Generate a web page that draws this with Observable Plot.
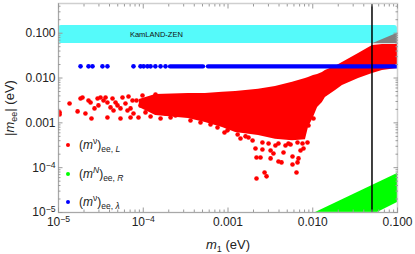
<!DOCTYPE html>
<html><head><meta charset="utf-8">
<script src="https://cdn.jsdelivr.net/npm/d3@7"></script>
<script src="https://cdn.jsdelivr.net/npm/@observablehq/plot@0.6"></script>
<style>
body{margin:0;background:#fff;}
#wrap{position:relative;width:415px;height:254px;font-family:"Liberation Sans",Arial,sans-serif;color:#222;}
.legend{position:absolute;left:66px;top:131px;font-size:12px;line-height:12px;}
.row{display:flex;align-items:center;height:28.5px;}
.dot{display:inline-block;width:4px;height:4px;border-radius:50%;margin-right:9px;}
.row sub{font-size:8.5px;vertical-align:-3px;}
.row sup{font-size:8.5px;vertical-align:5px;}
</style></head><body><div id="wrap"></div>
<script>
// ---- data ----
// dense (m^nu)_ee,L region: envelope of the scatter
const regionM1   = [9.0e-5, 1.4e-4, 3.4e-4, 5.4e-4, 8.6e-4, 1.23e-3, 2.29e-3, 3.63e-3, 5.77e-3, 8.2e-3, 8.9e-3, 1.02e-2, 1.14e-2, 1.3e-2, 1.41e-2, 1.86e-2, 2.24e-2, 3.47e-2, 5.07e-2, 6.65e-2, 0.1];
const regionLow  = [2.2e-3, 1.46e-3, 1.25e-3, 1.02e-3, 7.9e-4, 6.1e-4, 5.2e-4, 4.3e-4, 4.0e-4, 4.2e-4, 7.9e-4, 1.32e-3, 2.2e-3, 2.85e-3, 3.7e-3, 5.3e-3, 6.8e-3, 9.8e-3, 1.27e-2, 1.48e-2, 1.64e-2];
const regionHigh = [3.3e-3, 4.3e-3, 4.5e-3, 4.5e-3, 4.8e-3, 5.0e-3, 5.6e-3, 6.5e-3, 8.0e-3, 9.8e-3, 1.03e-2, 1.14e-2, 1.2e-2, 1.33e-2, 1.48e-2, 1.82e-2, 2.23e-2, 3.54e-2, 5.34e-2, 5.62e-2, 5.62e-2];
// isolated (m^nu)_ee,L points
const redM1  = [1.03e-5,1.03e-5,1.35e-5,1.68e-5,1.82e-5,1.92e-5,2.08e-5,2.26e-5,2.39e-5,2.45e-5,2.66e-5,2.89e-5,2.96e-5,3.13e-5,3.40e-5,3.59e-5,3.78e-5,3.78e-5,4.11e-5,4.34e-5,4.46e-5,4.71e-5,4.97e-5,5.39e-5,5.39e-5,5.69e-5,6.17e-5,6.52e-5,7.08e-5,7.47e-5,
  6.70e-5,7.08e-5,7.67e-5,8.32e-5,8.79e-5,9.28e-5,9.80e-5,1.063e-4,1.153e-4,1.22e-4,1.285e-4,1.395e-4,1.514e-4,1.60e-4,1.733e-4,1.83e-4,2.10e-4,2.40e-4,
  3.61e-4,4.74e-4,6.22e-4,7.52e-4,9.09e-4,9.87e-4,1.30e-3,1.61e-3,1.95e-3,2.11e-3,2.17e-3,2.42e-3,2.17e-3,2.55e-3,2.70e-3,2.85e-3,3.01e-3,3.18e-3,3.18e-3,3.44e-3,3.63e-3,3.94e-3,4.28e-3,4.52e-3,4.77e-3,5.17e-3,5.77e-3,5.77e-3,6.43e-3,6.61e-3,6.79e-3,7.17e-3,6.61e-3,7.78e-3,8.67e-3,8.91e-3,1.02e-2,
  1.405e-3,1.745e-3,2.55e-3,3.94e-3,5.47e-3,7.57e-3];
const redMee = [1.71e-3,1.54e-3,2.71e-3,1.80e-3,3.50e-3,3.69e-3,1.62e-3,3.16e-3,2.85e-3,1.25e-3,2.10e-3,3.50e-3,2.45e-3,3.69e-3,3.16e-3,3.69e-3,2.85e-3,1.32e-3,2.21e-3,3.50e-3,1.89e-3,2.85e-3,2.45e-3,1.25e-3,2.10e-3,3.69e-3,2.71e-3,1.89e-3,1.32e-3,3.16e-3,
  3.88e-3,2.10e-3,1.62e-3,3.16e-3,1.32e-3,2.45e-3,4.09e-3,1.71e-3,3.33e-3,1.39e-3,2.58e-3,4.30e-3,1.89e-3,1.25e-3,3.16e-3,1.62e-3,1.32e-3,1.46e-3,
  1.13e-3,1.02e-3,9.2e-4,7.9e-4,6.1e-4,6.8e-4,5.5e-4,5.0e-4,4.05e-4,2.68e-4,1.69e-4,1.69e-4,5.74e-5,2.55e-4,7.8e-5,6.4e-5,3.47e-4,2.42e-4,1.61e-4,2.07e-4,3.13e-4,1.37e-4,1.31e-4,2.18e-4,3.13e-4,3.47e-4,1.78e-4,1.18e-4,7.8e-5,1.31e-4,1.61e-4,2.42e-4,3.65e-4,2.68e-4,3.65e-4,8.75e-4,1.25e-3,
  4.49e-4,4.72e-4,3.65e-4,3.47e-4,3.30e-4,3.47e-4];
// (m^nu)_ee,lambda points (constant value)
const blueMee = 0.0182;
const blueM1 = [1.82e-5, 2.26e-5, 2.52e-5, 3.30e-5, 3.78e-5, 7.67e-5, 9.28e-5, 1.01e-4, 1.12e-4, 1.22e-4, 1.39e-4, 1.60e-4, 1.83e-4];
const blueRunStart = [2.10e-4, 5.89e-4];
const blueRunEnd   = [5.14e-4, 0.1];
// (m^N)_ee,R region
const greenM1   = [1.08e-2, 5.81e-2, 0.1];
const greenLow  = [1e-5, 1e-5, 1.67e-5];
const greenHigh = [1e-5, 4.56e-5, 7.42e-5];
// gray excluded wedge
const grayM1   = [5.07e-2, 0.1];
const grayLow  = [0.058, 0.058];
const grayHigh = [0.058, 0.1];
// KamLAND-ZEN band
const kzLow = [0.059], kzHigh = [0.148];
const kzLabel = ["KamLAND-ZEN"], kzLabelM1 = [1.43e-4], kzLabelMee = [0.094];
// vertical limit on m1
const m1Limit = [0.05];
// ticks
const xTicks = [1e-5, 1e-4, 1e-3, 1e-2, 1e-1];
const xTickLabels = ["10^−5", "10^−4", "0.001", "0.010", "0.100"];
const yTicks = [1e-5, 1e-4, 1e-3, 1e-2, 1e-1];
const yTickLabels = ["10^−5", "10^−4", "0.001", "0.010", "0.100"];
const xDomain = [1e-5, 0.1], yDomain = [1e-5, 0.46];

const minor = (dom) => { const out = []; for (let e = -5; e <= 0; e++) for (let k = 2; k <= 9; k++) { const v = k * Math.pow(10, e); if (v > dom[0] && v < dom[1]) out.push(v); } return out; };
const xMinor = minor(xDomain), yMinor = minor(yDomain);
const idx = (a) => d3.range(a.length);
const xf = (v) => xTickLabels[xTicks.findIndex(t => Math.abs(t - v) / v < 1e-6)];
const yf = (v) => yTickLabels[yTicks.findIndex(t => Math.abs(t - v) / v < 1e-6)];
const tickColor = "#9a9a9a";

const svg = Plot.plot({
  width: 415, height: 254,
  marginLeft: 58, marginRight: 18, marginTop: 3, marginBottom: 42,
  style: {fontFamily: "Liberation Sans, Arial, sans-serif", fontSize: "12px", color: "#222", background: "white"},
  x: {type: "log", domain: xDomain},
  y: {type: "log", domain: yDomain},
  marks: [
    Plot.rect(idx(kzLow), {x1: () => xDomain[0], x2: () => xDomain[1], y1: i => kzLow[i], y2: i => kzHigh[i], fill: "#55fafa", rx: 3}),
    Plot.areaY(idx(grayM1), {x: i => grayM1[i], y1: i => grayLow[i], y2: i => grayHigh[i], fill: "#808080", clip: true}),
    Plot.areaY(idx(regionM1), {x: i => regionM1[i], y1: i => regionLow[i], y2: i => regionHigh[i], fill: "#ff0000", clip: true}),
    Plot.dot(idx(redM1), {x: i => redM1[i], y: i => redMee[i], r: 2.3, fill: "#ff0000", clip: true}),
    Plot.dot(idx(blueM1), {x: i => blueM1[i], y: () => blueMee, r: 2.3, fill: "#0000ff", clip: true}),
    Plot.ruleY(idx(blueRunStart), {x1: i => blueRunStart[i], x2: i => blueRunEnd[i], y: () => blueMee, stroke: "#0000ff", strokeWidth: 4.4, strokeLinecap: "round", clip: true}),
    Plot.areaY(idx(greenM1), {x: i => greenM1[i], y1: i => greenLow[i], y2: i => greenHigh[i], fill: "#00ff00", clip: true}),
    Plot.ruleX(m1Limit, {stroke: "black", strokeWidth: 1.5}),
    Plot.text(idx(kzLabel), {x: i => kzLabelM1[i], y: i => kzLabelMee[i], text: i => kzLabel[i], fontSize: 7.5, fill: "#111"}),
    Plot.frame({stroke: "#cfcfcf", strokeWidth: 1.5}),
    Plot.ruleX([xDomain[0]], {stroke: "#a8a8a8"}),
    Plot.ruleY([yDomain[0]], {stroke: "#a8a8a8"}),
    // tick marks (inward)
    Plot.axisX(xTicks, {anchor: "bottom", tickSize: -4.5, fill: "none", stroke: tickColor, label: null}),
    Plot.axisX(xMinor, {anchor: "bottom", tickSize: -2.5, fill: "none", stroke: tickColor, label: null}),
    Plot.axisX(xTicks, {anchor: "top", tickSize: -4.5, fill: "none", stroke: tickColor, label: null}),
    Plot.axisX(xMinor, {anchor: "top", tickSize: -2.5, fill: "none", stroke: tickColor, label: null}),
    Plot.axisY(yTicks, {anchor: "left", tickSize: -4.5, fill: "none", stroke: tickColor, label: null}),
    Plot.axisY(yMinor, {anchor: "left", tickSize: -2.5, fill: "none", stroke: tickColor, label: null}),
    Plot.axisY(yTicks, {anchor: "right", tickSize: -4.5, fill: "none", stroke: tickColor, label: null}),
    Plot.axisY(yMinor, {anchor: "right", tickSize: -2.5, fill: "none", stroke: tickColor, label: null}),
    // tick labels
    Plot.axisX(xTicks, {anchor: "bottom", tickSize: 0, tickPadding: 5, tickFormat: xf, label: null, fontSize: 12}),
    Plot.axisY(yTicks, {anchor: "left", tickSize: 0, tickPadding: 3, tickFormat: yf, label: null, fontSize: 12})
  ]
});

const wrap = document.getElementById("wrap");
wrap.appendChild(svg);

// superscripts in tick labels
d3.select(svg).selectAll("text").each(function () {
  const t = this.textContent;
  const m = /^10\^(.+)$/.exec(t);
  if (m) {
    const sel = d3.select(this);
    sel.text("10");
    sel.append("tspan").attr("dy", "-0.45em").attr("font-size", "0.72em").text(m[1]);
  }
});

// white box behind KamLAND-ZEN label
d3.select(svg).selectAll("text").each(function () {
  if (this.textContent === kzLabel[0]) {
    const b = this.getBBox();
    const g = this.parentNode;
    const r = document.createElementNS("http://www.w3.org/2000/svg", "rect");
    r.setAttribute("x", b.x - 1.5); r.setAttribute("y", b.y - 1);
    r.setAttribute("width", b.width + 3); r.setAttribute("height", b.height + 2);
    r.setAttribute("fill", "white");
    g.insertBefore(r, this);
  }
});

// axis titles
const s = d3.select(svg);
const xl = s.append("text").attr("x", 228).attr("y", 249).attr("text-anchor", "middle").attr("font-size", 13).attr("fill", "#222");
xl.append("tspan").attr("font-style", "italic").text("m");
xl.append("tspan").attr("font-size", 9).attr("dy", 3).text("1");
xl.append("tspan").attr("dy", -3).text(" (eV)");
const yl = s.append("text").attr("transform", "translate(14,108) rotate(-90)").attr("text-anchor", "middle").attr("font-size", 13).attr("fill", "#222");
yl.append("tspan").text("|");
yl.append("tspan").attr("font-style", "italic").text("m");
yl.append("tspan").attr("font-size", 9).attr("dy", 3).text("ee");
yl.append("tspan").attr("dy", -3).text("| (eV)");

// legend
const legendColors = ["#ff0000", "#00ff00", "#0000ff"];
const legendHTML = [
  "(<i>m</i><sup>ν</sup>)<sub>ee, <i>L</i></sub>",
  "(<i>m</i><sup><i>N</i></sup>)<sub>ee, <i>R</i></sub>",
  "(<i>m</i><sup>ν</sup>)<sub>ee, <i>λ</i></sub>"
];
const leg = document.createElement("div");
leg.className = "legend";
leg.innerHTML = legendHTML.map((h, i) => `<div class="row"><span class="dot" style="background:${legendColors[i]}"></span><span>${h}</span></div>`).join("");
wrap.appendChild(leg);
</script></body></html>
